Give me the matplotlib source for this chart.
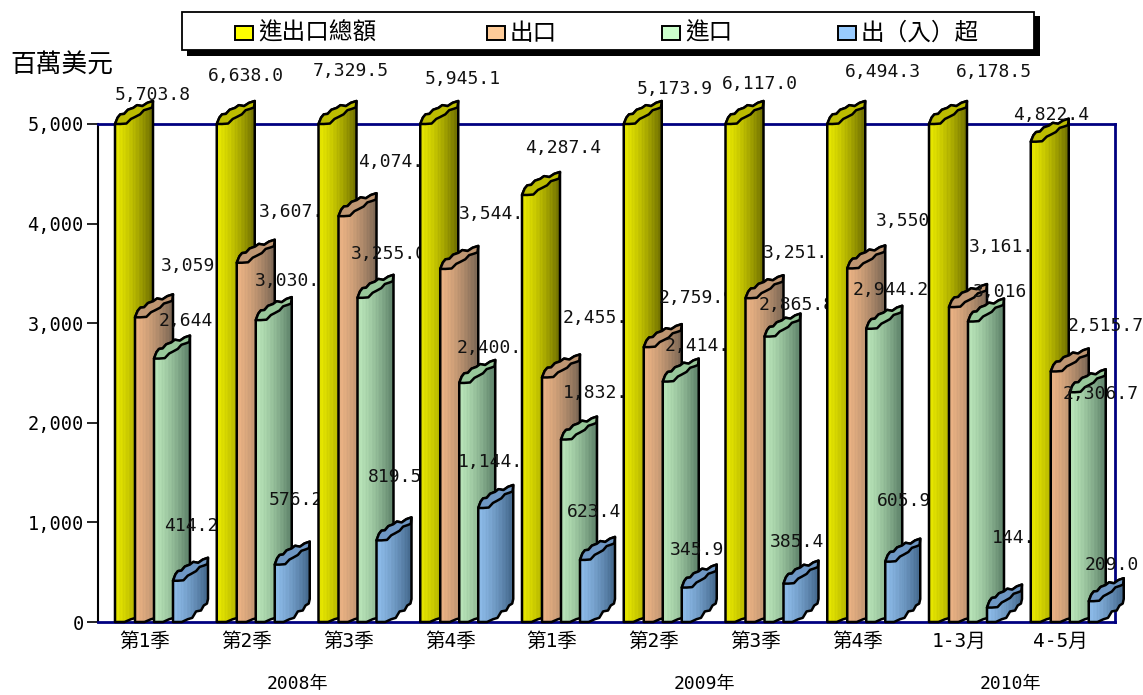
import numpy as np
import matplotlib
matplotlib.use("Agg")
import matplotlib.pyplot as plt
from matplotlib.patches import Polygon, Rectangle
from matplotlib.transforms import Affine2D

# 百萬美元
quarters = ["第1季", "第2季", "第3季", "第4季", "第1季", "第2季", "第3季", "第4季", "1-3月", "4-5月"]
totals = [5703.8, 6638.0, 7329.5, 5945.1, 4287.4, 5173.9, 6117.0, 6494.3, 6178.5, 4822.4]
exports = [3059.0, 3607.1, 4074.5, 3544.9, 2455.4, 2759.9, 3251.2, 3550.1, 3161.7, 2515.7]
imports = [2644.8, 3030.9, 3255.0, 2400.2, 1832.0, 2414.0, 2865.8, 2944.2, 3016.8, 2306.7]
balance = [414.2, 576.2, 819.5, 1144.7, 623.4, 345.9, 385.4, 605.9, 144.9, 209.0]

series_names = ["進出口總額", "出口", "進口", "出（入）超"]
years = ["2008年", "2009年", "2010年"]
y_ticks = [0, 1000, 2000, 3000, 4000, 5000]

# label centres in image pixels, one row per series
label_x = [
    [153, 246, 351, 463, 563, 675, 760, 883, 994, 1051],
    [199, 297, 396, 497, 601, 697, 801, 914, 1007, 1106],
    [197, 293, 389, 495, 601, 703, 797, 891, 1011, 1101],
    [191, 296, 395, 496, 594, 697, 797, 904, 1019, 1112],
]
label_y = [
    [95, 76, 71, 79, 148, 89, 84, 72, 72, 115],
    [266, 212, 162, 214, 318, 298, 253, 221, 247, 326],
    [321, 281, 254, 348, 393, 346, 305, 290, 292, 394],
    [526, 500, 477, 462, 512, 550, 542, 501, 538, 565],
]

W, H = 1143, 695
LEFT, RIGHT, TOP, BOTTOM = 97.5, 1115, 124, 622
FONT = ["DejaVu Sans Mono", "Noto Sans CJK TC"]
NAVY = "#000080"

# per-series look: light side, dark side, cap colour, legend colour
light = [(230, 230, 0), (234, 178, 132), (184, 228, 184), (140, 186, 232)]
dark = [(110, 110, 0), (122, 102, 84), (92, 128, 104), (66, 102, 138)]
cap = ["#bcbc00", "#bf9672", "#98c89a", "#6e97c4"]
swatch = ["#ffff00", "#ffcc99", "#ccffcc", "#99ccff"]
offset_px = [0, 20, 39, 58]
width_px = [38, 38, 36, 35]
DEPTH = 23

# the crumpled edges, as fractions of bar width and depth
upper = [(0, 0), (.07, .28), (.14, .42), (.24, .44), (.34, .62), (.48, .7), (.58, .82), (.72, .78), (.85, .92), (1, 1)]
lower = [(1, 1), (.98, .72), (.88, .66), (.76, .6), (.66, .42), (.52, .3), (.42, .22), (.3, .02), (.14, 0), (0, 0)]
floor = [(1, 1), (.97, .8), (.88, .72), (.8, .5), (.66, .46), (.55, .18), (.42, .12), (.25, 0), (0, 0)]
stripes = [0, .03, 0, -.03, .02, .02, -.02, 0, .04, -.02]


def px(x, y):
    """Pixel offsets to data units."""
    return x / ((RIGHT - LEFT) / len(quarters)), y * 5000 / (BOTTOM - TOP)


def shade(k, n):
    t = np.linspace(0, 1, n) ** 1.35
    t = np.clip(t + np.array([stripes[i % len(stripes)] for i in range(n)]), 0, 1)
    row = [(1 - t)[:, None] * np.array(light[k]) + t[:, None] * np.array(dark[k])]
    return np.array(row).astype(np.uint8)


def draw_bar(ax, i, k, value, z):
    dx, _ = px(offset_px[k] + 17.5, 0)
    x0 = i + dx
    bw, _ = px(width_px[k], 0)
    _, d = px(0, DEPTH)
    h = min(value, 5000)

    up = [(x0 + a * bw, h + b * d) for a, b in upper]
    low = [(x0 + a * bw, h + b * d) for a, b in lower]
    base = [(x0 + a * bw, b * d) for a, b in floor]
    outline = Polygon(up + base, closed=True, fc="none", ec="black", lw=1.8,
                      zorder=z + 0.2, clip_on=False, joinstyle="round")
    ax.add_patch(outline)
    im = ax.imshow(shade(k, width_px[k]), extent=(x0, x0 + bw, 0, h + d), aspect="auto",
                   interpolation="nearest", zorder=z + 0.1)
    im.set_clip_path(outline)
    im.set_clip_box(ax.figure.bbox)
    ax.add_patch(Polygon(up + low, closed=True, fc=cap[k], ec="black", lw=1.8,
                         zorder=z + 0.3, clip_on=False, joinstyle="round"))


fig = plt.figure(figsize=(W / 100, H / 100), dpi=100, facecolor="white")
ax = fig.add_axes([LEFT / W, 1 - BOTTOM / H, (RIGHT - LEFT) / W, (BOTTOM - TOP) / H])
ax.set_xlim(0, len(quarters))
ax.set_ylim(0, 5000)
ax.set_autoscale_on(False)
to_pixels = Affine2D().scale(1, -1).translate(0, H)

for side in ["top", "right", "bottom"]:
    ax.spines[side].set_color(NAVY)
    ax.spines[side].set_linewidth(2)
ax.spines["left"].set_color("black")
ax.spines["left"].set_linewidth(1.5)

ax.set_yticks(y_ticks)
ax.set_yticklabels([f"{v:,}" for v in y_ticks], family=FONT, fontsize=13.4)
ax.tick_params(axis="y", length=8, width=1.2, pad=2)
ax.set_xticks([i + 0.465 for i in range(len(quarters))])
ax.set_xticklabels(quarters, family=FONT, fontsize=14)
ax.tick_params(axis="x", length=0, pad=7)

series = [totals, exports, imports, balance]
for i in range(len(quarters)):
    base_z = 5 + i * 10
    for k, values in enumerate(series):
        draw_bar(ax, i, k, values[i], base_z + k)
    # value labels sit over this group but under the next one
    for k, values in enumerate(series):
        ax.text(label_x[k][i], label_y[k][i], f"{values[i]:,.1f}", transform=to_pixels,
                family=FONT, fontsize=13, ha="center", va="center", color="#111111",
                clip_on=False, zorder=base_z + 5)

for name, x in zip(years, [297, 704, 1010]):
    fig.text(x, 684, name, transform=to_pixels, family=FONT, fontsize=13, ha="center", va="center")
fig.text(10, 66, "百萬美元", transform=to_pixels, family=FONT, fontsize=18.5, ha="left", va="center")

# legend box with its hard shadow
fig.add_artist(Rectangle((187, 16), 853, 40, transform=to_pixels, fc="black", ec="none"))
fig.add_artist(Rectangle((181.5, 12), 852, 38, transform=to_pixels, fc="white", ec="black", lw=1.3))
for name, color, sx in zip(series_names, swatch, [235, 487, 662, 838]):
    fig.add_artist(Rectangle((sx, 25.5), 18, 14, transform=to_pixels, fc=color, ec="black", lw=1.4))
    fig.text(sx + 23, 33, name, transform=to_pixels, family=FONT, fontsize=17, ha="left", va="center")

fig.savefig("out.png", dpi=100)
